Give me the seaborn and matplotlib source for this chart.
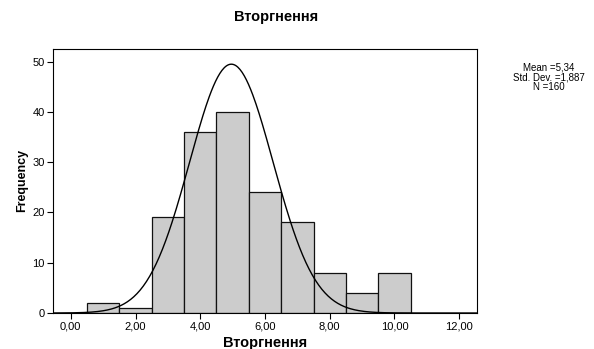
import numpy as np
import pandas as pd
import matplotlib
matplotlib.use("Agg")
import matplotlib.pyplot as plt
import seaborn as sns

# histogram data (bin centres, counts)
bin_centers = [1, 2, 3, 4, 5, 6, 7, 8, 9, 10]
counts = [2, 1, 19, 36, 40, 24, 18, 8, 4, 8]
bin_edges = [0.5, 1.5, 2.5, 3.5, 4.5, 5.5, 6.5, 7.5, 8.5, 9.5, 10.5]
x_ticks = [0, 2, 4, 6, 8, 10, 12]
x_tick_labels = ["0,00", "2,00", "4,00", "6,00", "8,00", "10,00", "12,00"]
y_ticks = [0, 10, 20, 30, 40, 50]

# normal curve as drawn in the picture
curve_mean = 4.96
curve_sd = 1.29
n_total = 160
stats_text = "Mean =5,34\nStd. Dev. =1,887\nN =160"

sns.set_style("white")
plt.rcParams['font.family'] = ['Liberation Sans', 'DejaVu Sans']
plt.rcParams['text.color'] = 'black'
plt.rcParams['axes.labelcolor'] = 'black'
plt.rcParams['xtick.color'] = 'black'
plt.rcParams['ytick.color'] = 'black'

fig = plt.figure(figsize=(5.94, 3.49), dpi=100)
ax = fig.add_axes([53 / 594, 1 - 313 / 349, (477 - 53) / 594, (313 - 48.5) / 349])

df = pd.DataFrame({"x": bin_centers, "n": counts})
sns.histplot(data=df, x="x", weights="n", bins=bin_edges, ax=ax,
             color="#cccccc", alpha=1, edgecolor="#111111", linewidth=0.9)

xs = np.linspace(-0.55, 12.55, 400)
ys = n_total / (curve_sd * np.sqrt(2 * np.pi)) * np.exp(-0.5 * ((xs - curve_mean) / curve_sd) ** 2)
sns.lineplot(x=xs, y=ys, ax=ax, color="black", linewidth=1.0)

ax.set_xlim(-0.55, 12.55)
ax.set_ylim(0, 52.6)
ax.set_xticks(x_ticks)
ax.set_xticklabels(x_tick_labels)
ax.set_yticks(y_ticks)
ax.tick_params(axis="both", which="both", direction="out", length=4, width=0.8,
               labelsize=8, bottom=True, left=True, pad=2)
for s in ax.spines.values():
    s.set_color("black")
    s.set_linewidth(0.8)

ax.set_xlabel("Вторгнення", fontsize=10.5, fontweight="bold", labelpad=3)
ax.set_ylabel("Frequency", fontsize=9, fontweight="bold", labelpad=3)

fig.text(276 / 594, 1 - 17 / 349, "Вторгнення", ha="center", va="center",
         fontsize=10.5, fontweight="bold")
fig.text(549 / 594, 1 - 77 / 349, stats_text, ha="center", va="center",
         fontsize=7, linespacing=0.95)

fig.savefig("out.png", dpi=100)
